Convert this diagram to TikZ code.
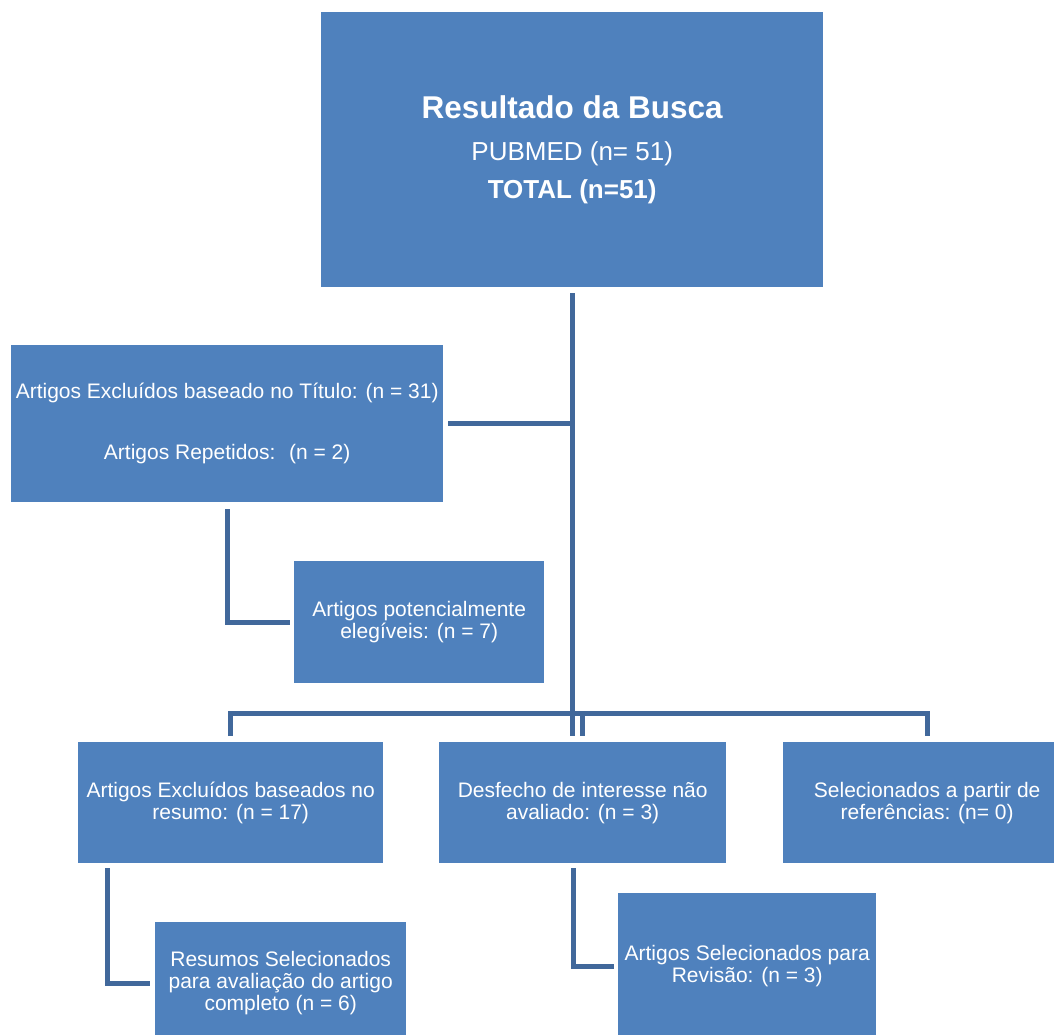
\documentclass[tikz,border=0pt]{standalone}
\usepackage{fontspec}
\setmainfont{Liberation Sans}
\definecolor{boxblue}{RGB}{79,129,189}
\definecolor{lineblue}{RGB}{65,104,155}
\begin{document}
\begin{tikzpicture}[x=1pt,y=-1pt,
  box/.style={fill=boxblue,text=white,align=center,inner sep=0pt,anchor=north west,font=\fontsize{21}{22}\selectfont},
  link/.style={draw=lineblue,line width=5pt}]
\useasboundingbox (0,0) rectangle (1054,1035);
\clip (0,0) rectangle (1054,1035);
\node[box,minimum width=502pt,minimum height=275pt,font=\fontsize{26}{40}\selectfont] (top) at (321,12)
  {{\fontsize{31.5}{31.5}\selectfont\bfseries Resultado da Busca}\\[2pt]PUBMED (n= 51)\\[-2pt]{\bfseries TOTAL (n=51)}};
\node[box,minimum width=432pt,minimum height=157pt] (t1) at (11,345)
  {Artigos Excluídos baseado no Título: (n = 31)\\[39pt]Artigos Repetidos:~ (n = 2)};
\node[box,minimum width=250pt,minimum height=122pt] (pot) at (294,561)
  {Artigos potencialmente\\elegíveis: (n = 7)};
\node[box,minimum width=305pt,minimum height=121pt] (A) at (78,742)
  {Artigos Excluídos baseados no\\resumo: (n = 17)};
\node[box,minimum width=287pt,minimum height=121pt] (B) at (439,742)
  {Desfecho de interesse não\\avaliado: (n = 3)};
\node[box,minimum width=288pt,minimum height=121pt] (C) at (783,742)
  {Selecionados a partir de\\referências: (n= 0)};
\node[box,minimum width=251pt,minimum height=122pt] (res) at (155,922)
  {Resumos Selecionados\\para avaliação do artigo\\completo (n = 6)};
\node[box,minimum width=258pt,minimum height=146pt] (rev) at (618,893)
  {Artigos Selecionados para\\Revisão: (n = 3)};
\coordinate (bar) at (572,713);
\draw[link] ([yshift=-6pt]top.south) -- ([yshift=6pt]top.south |- B.north);
\draw[link] ([xshift=5pt]t1.east) -- (t1.east -| top.south);
\draw[link] ([yshift=-7pt]t1.south) |- ([xshift=-4pt]pot.west);
\draw[link] ([yshift=6pt]A.north) |- (bar) -| ([yshift=6pt]C.north);
\draw[link] (bar -| B.north) -- ([yshift=6pt]B.north);
\draw[link] ([xshift=29pt,yshift=-5pt]A.south west) |- ([xshift=-5pt]res.west);
\draw[link] ([xshift=134pt,yshift=-5pt]B.south west) |- ([xshift=-4pt]rev.west);
\end{tikzpicture}
\end{document}
